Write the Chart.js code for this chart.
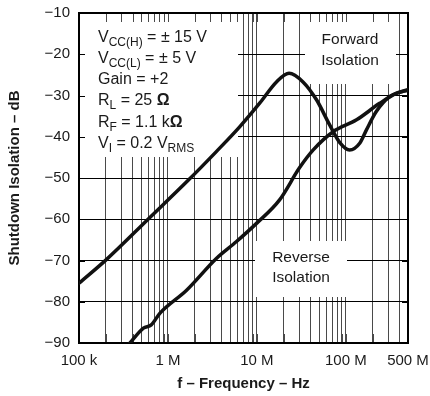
<!DOCTYPE html>
<html>
<head>
<meta charset="utf-8">
<script src="https://cdn.jsdelivr.net/npm/chart.js@4"></script>
<style>
  html, body { margin: 0; padding: 0; background: #fff; }
  #wrap { width: 430px; height: 396px; }
</style>
</head>
<body>
<div id="wrap"><canvas id="isoChart" width="430" height="396"></canvas></div>
<script>
// forward isolation (Hz, dB)
const forwardFreq = [1e5, 2e5, 6.1e5, 1.7e6, 3.5e6, 6.4e6, 1.08e7, 1.66e7, 2.3e7, 3.3e7, 4.7e7, 6.6e7, 8.6e7, 1.1e8, 1.44e8, 1.7e8, 2.2e8, 3.1e8, 4.0e8, 5e8];
const forwardDb = [-75.5, -69.9, -59.8, -50.5, -43.6, -37.6, -31.8, -26.7, -24.6, -26.7, -31.1, -37.2, -41.5, -43.2, -41.5, -38.4, -33.9, -30.3, -29.2, -28.6];

// reverse isolation (Hz, dB)
const reverseFreq = [3.74e5, 5.3e5, 6.5e5, 8.1e5, 1.62e6, 3.5e6, 5.9e6, 9.9e6, 1.8e7, 3.0e7, 4.3e7, 7.2e7, 1.32e8, 2.4e8, 3.7e8, 5e8];
const reverseDb = [-90, -86.4, -85.6, -82.8, -77.2, -69.5, -65.4, -61, -55.3, -47.6, -43.2, -38.8, -35.9, -31.9, -29.5, -28.7];

const xTickValues = [1e5, 1e6, 1e7, 1e8, 5e8];
const xTickLabels = ['100 k', '1 M', '10 M', '100 M', '500 M'];
const yTickValues = [-90, -80, -70, -60, -50, -40, -30, -20, -10];

const FONT = "'Liberation Sans', Arial, sans-serif";

// every 1..9 x 10^n line between 100 k and 500 M
const xGridValues = [];
for (let e = 5; e <= 8; e++) {
  for (let m = 1; m <= 9; m++) {
    const v = m * Math.pow(10, e);
    if (v <= 5e8) xGridValues.push(v);
  }
}

const toPoints = (xs, ys) => xs.map((x, i) => ({ x: x, y: ys[i] }));

// boxes in pixel offsets from the chart area corners
const notes = {
  params: { x0: 0, y0: 0, x1: 159, y1: 144 },
  forward: { x0: 226, y0: 0, x1: 317, y1: 71 },
  reverse: { x0: 176, y0: 228, x1: 268, y1: 284 }
};

function drawRich(ctx, x, y, parts) {
  let cx = x;
  parts.forEach(p => {
    const size = p.sub ? 12 : 16;
    ctx.font = (p.bold ? 'bold ' : '') + size + 'px ' + FONT;
    ctx.fillText(p.t, cx, y + (p.sub ? 4 : 0));
    cx += ctx.measureText(p.t).width;
  });
}

const overlay = {
  id: 'overlay',
  beforeDatasetsDraw(chart) {
    const { ctx, chartArea: a, scales } = chart;
    ctx.save();
    // white label backgrounds over the grid
    ctx.fillStyle = '#fff';
    Object.values(notes).forEach(b => {
      ctx.fillRect(a.left + b.x0, a.top + b.y0, b.x1 - b.x0, b.y1 - b.y0);
    });
    // inward ticks
    ctx.strokeStyle = '#4a4a4a';
    ctx.lineWidth = 1;
    xGridValues.forEach(v => {
      const px = Math.round(scales.x.getPixelForValue(v)) + 0.5;
      ctx.beginPath();
      ctx.moveTo(px, a.top); ctx.lineTo(px, a.top + 9);
      ctx.moveTo(px, a.bottom); ctx.lineTo(px, a.bottom - 9);
      ctx.stroke();
    });
    ctx.strokeStyle = '#000';
    yTickValues.forEach(v => {
      const py = Math.round(scales.y.getPixelForValue(v)) + 0.5;
      ctx.beginPath();
      ctx.moveTo(a.left, py); ctx.lineTo(a.left + 6, py);
      ctx.moveTo(a.right, py); ctx.lineTo(a.right - 6, py);
      ctx.stroke();
    });
    // frame
    ctx.strokeStyle = '#000';
    ctx.lineWidth = 2;
    ctx.strokeRect(a.left, a.top, a.right - a.left, a.bottom - a.top);

    // texts
    ctx.fillStyle = '#1a1a1a';
    ctx.textBaseline = 'alphabetic';
    ctx.textAlign = 'left';
    const rows = [
      [{ t: 'V' }, { t: 'CC(H)', sub: true }, { t: ' = \u00b1 15 V' }],
      [{ t: 'V' }, { t: 'CC(L)', sub: true }, { t: ' = \u00b1 5 V' }],
      [{ t: 'Gain = +2' }],
      [{ t: 'R' }, { t: 'L', sub: true }, { t: ' = 25 ' }, { t: '\u03a9', bold: true }],
      [{ t: 'R' }, { t: 'F', sub: true }, { t: ' = 1.1 k' }, { t: '\u03a9', bold: true }],
      [{ t: 'V' }, { t: 'I', sub: true }, { t: ' = 0.2 V' }, { t: 'RMS', sub: true }]
    ];
    rows.forEach((r, i) => drawRich(ctx, a.left + 19, a.top + 28.5 + i * 21.3, r));

    ctx.textAlign = 'center';
    ctx.textBaseline = 'middle';
    ctx.font = '15.5px ' + FONT;
    ctx.fillText('Forward', a.left + 271, a.top + 27);
    ctx.fillText('Isolation', a.left + 271, a.top + 48);
    ctx.fillText('Reverse', a.left + 222, a.top + 245);
    ctx.fillText('Isolation', a.left + 222, a.top + 265);
    ctx.restore();
  }
};

const ctx = document.getElementById('isoChart').getContext('2d');
const isoChart = new Chart(ctx, {
  type: 'scatter',
  data: {
    datasets: [{
      label: 'Forward Isolation',
      data: toPoints(forwardFreq, forwardDb),
      showLine: true,
      borderColor: '#111',
      borderWidth: 3.5,
      pointRadius: 0,
      cubicInterpolationMode: 'monotone',
      borderCapStyle: 'round',
      borderJoinStyle: 'round'
    }, {
      label: 'Reverse Isolation',
      data: toPoints(reverseFreq, reverseDb),
      showLine: true,
      borderColor: '#111',
      borderWidth: 3.5,
      pointRadius: 0,
      cubicInterpolationMode: 'monotone',
      borderCapStyle: 'round',
      borderJoinStyle: 'round'
    }]
  },
  options: {
    responsive: false,
    animation: false,
    layout: { padding: { top: 13, right: 22, left: 0, bottom: 0 } },
    plugins: {
      legend: { display: false },
      tooltip: { enabled: false }
    },
    scales: {
      x: {
        type: 'logarithmic',
        min: 1e5,
        max: 5e8,
        afterBuildTicks: s => { s.ticks = xGridValues.map(v => ({ value: v })); },
        afterFit: s => { s.height = 53; s.paddingLeft = 0; s.paddingRight = 0; },
        grid: { color: '#4a4a4a', lineWidth: 1, drawTicks: false },
        border: { display: false },
        ticks: {
          autoSkip: false,
          maxRotation: 0,
          padding: 9,
          color: '#1a1a1a',
          font: { family: FONT, size: 15 },
          callback: v => {
            const i = xTickValues.indexOf(v);
            return i >= 0 ? xTickLabels[i] : '';
          }
        },
        title: {
          display: true,
          text: 'f \u2013 Frequency \u2013 Hz',
          color: '#1a1a1a',
          font: { family: FONT, size: 15, weight: 'bold' },
          padding: { top: 0, bottom: 3 }
        }
      },
      y: {
        min: -90,
        max: -10,
        afterBuildTicks: s => { s.ticks = yTickValues.map(v => ({ value: v })); },
        afterFit: s => { s.width = 79; s.paddingTop = 0; s.paddingBottom = 0; },
        grid: { color: '#000', lineWidth: 1, drawTicks: false },
        border: { display: false },
        ticks: {
          padding: 9,
          color: '#1a1a1a',
          font: { family: FONT, size: 15 },
          callback: v => String(v).replace('-', '\u2212')
        },
        title: {
          display: true,
          text: 'Shutdown Isolation \u2013 dB',
          color: '#1a1a1a',
          font: { family: FONT, size: 15, weight: 'bold' },
          padding: { top: 6, bottom: 0 }
        }
      }
    }
  },
  plugins: [overlay]
});
</script>
</body>
</html>
